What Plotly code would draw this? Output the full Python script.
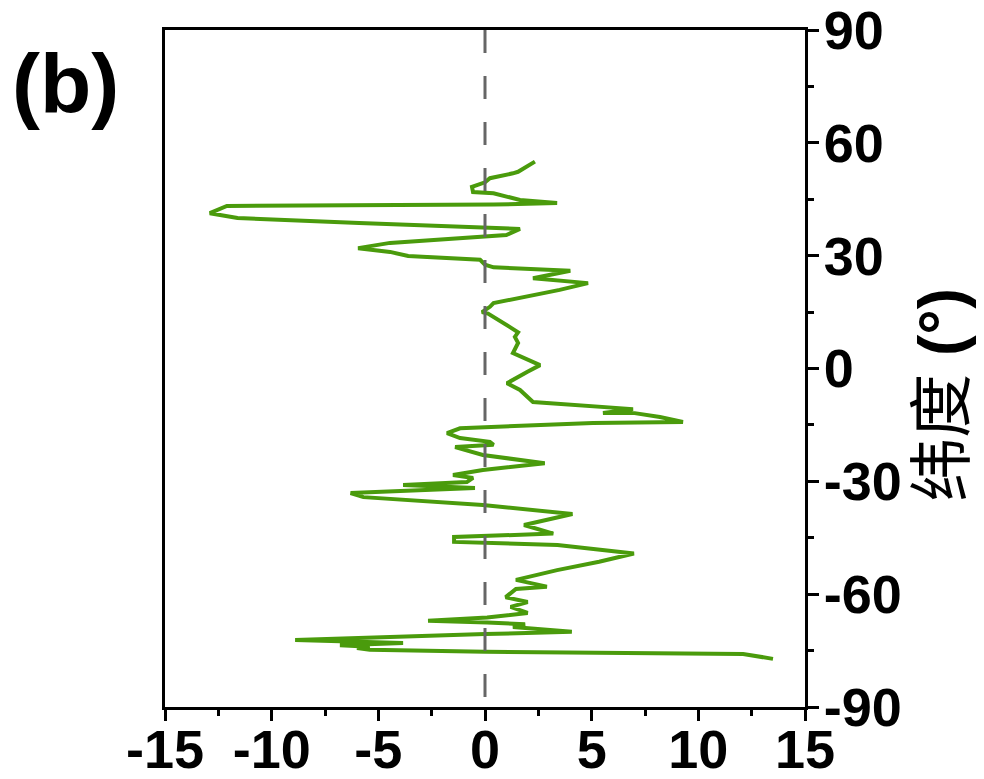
import plotly.graph_objects as go

# values along the x axis (anomaly) and latitude (deg) of the traced profile
values = [2.34, 1.55, 1.31, 0.23, 0.0, -0.61, -0.56, 0.4, 1.64, 3.38,
          0.4, -12.1, -12.9, -11.6, -5.9, -0.23, 1.64, 1.0, -0.23, -4.45,
          -5.95, -4.45, -3.6, -0.23, 0.0, 0.4, 4.0, 2.25, 4.83, 3.5,
          0.4, 0.23, -0.14, 0.14, 1.17, 1.55, 1.4, 1.55, 1.31, 2.58,
          1.97, 1.03, 1.64, 2.25, 6.94, 5.53, 6.94, 8.2, 9.28, 5.06,
          0.0, -1.17, -1.78, -1.17, 0.23, 0.4, -1.4, -0.1, 2.8, -0.1,
          -1.5, -0.56, -0.85, -3.84, -0.47, -6.3, -5.7, -0.1, 4.1, 1.83,
          3.2, -1.45, -1.45, 3.4, 6.98, 5.35, 3.38, 1.45, 2.9, 1.45,
          0.97, 2.0, 1.2, 2.0, 0.1, -2.67, 0.1, 1.17, 1.88, 1.31,
          4.07, 0.0, -8.9, -3.84, -6.8, -5.4, -6.0, -5.4, 0.0, 12.1,
          13.5]
latitudes = [55.0, 52.3, 51.9, 50.6, 49.5, 48.3, 46.9, 46.6, 44.8, 44.0,
             43.6, 43.2, 41.3, 40.0, 38.7, 37.4, 37.1, 35.5, 35.0, 33.4,
             32.0, 31.0, 29.9, 28.9, 27.6, 26.9, 26.0, 24.0, 22.7, 20.9,
             17.4, 16.4, 15.0, 14.6, 11.0, 9.6, 8.4, 6.8, 4.1, 0.9,
             -0.9, -3.9, -5.7, -8.9, -10.8, -11.8, -11.8, -12.9, -14.2, -14.5,
             -15.6, -15.9, -17.2, -18.5, -19.5, -20.3, -20.9, -23.0, -25.2, -27.0,
             -28.3, -29.1, -30.2, -31.0, -31.8, -33.1, -34.2, -36.3, -38.7, -41.6,
             -43.9, -44.8, -46.1, -46.9, -49.2, -51.4, -53.6, -56.2, -58.0, -58.6,
             -60.8, -62.1, -63.4, -65.0, -66.2, -67.1, -67.5, -67.8, -68.0, -68.7,
             -70.0, -70.6, -72.2, -73.0, -73.6, -74.0, -74.3, -74.8, -75.3, -75.9,
             -77.2]

x_ticks = [-15, -10, -5, 0, 5, 10, 15]
y_ticks = [-90, -60, -30, 0, 30, 60, 90]
y_title = "纬度 <b>(°)</b>"
panel_label = "<b>(b)</b>"

tick_font = dict(family="Liberation Sans, Arial", size=54, color="black", weight="bold")

fig = go.Figure()
fig.add_trace(go.Scatter(
    x=values, y=latitudes, mode="lines",
    line=dict(color="#4a9b0c", width=4),
    showlegend=False, hoverinfo="skip",
))

fig.add_shape(type="line", xref="x", yref="y", x0=0, x1=0, y0=90, y1=-90,
              line=dict(color="#666666", width=3, dash="23px,23px"), layer="above")

fig.update_layout(
    width=976, height=771,
    margin=dict(l=157, r=179, t=22, b=72),
    paper_bgcolor="white", plot_bgcolor="white",
    xaxis=dict(
        range=[-15, 15], tickvals=x_ticks, ticktext=[str(v) for v in x_ticks],
        showgrid=False, zeroline=False, automargin=False, ticklabeloverflow="allow",
        ticklabelstandoff=-18,
        showline=True, linecolor="black", linewidth=3, mirror=True,
        ticks="outside", ticklen=11, tickwidth=3, tickcolor="black",
        minor=dict(dtick=2.5, ticks="outside", ticklen=6, tickwidth=3, tickcolor="black", showgrid=False),
        tickfont=tick_font,
    ),
    yaxis=dict(
        range=[-90, 90], side="right", tickvals=y_ticks, ticktext=[str(v) for v in y_ticks],
        showgrid=False, zeroline=False, automargin=False, ticklabeloverflow="allow",
        ticklabelstandoff=-6,
        showline=True, linecolor="black", linewidth=3, mirror=True,
        ticks="outside", ticklen=11, tickwidth=3, tickcolor="black",
        minor=dict(dtick=15, ticks="outside", ticklen=6, tickwidth=3, tickcolor="black", showgrid=False),
        tickfont=tick_font,
    ),
    annotations=[
        dict(text=y_title, xref="paper", yref="paper", x=1.214, y=0.461,
             xanchor="center", yanchor="middle", textangle=-90, showarrow=False,
             font=dict(family="Liberation Sans, Noto Sans CJK SC", size=64, color="black")),
        dict(text=panel_label, xref="paper", yref="paper", x=-0.155, y=0.92,
             xanchor="center", yanchor="middle", showarrow=False,
             font=dict(family="Liberation Sans, Arial", size=84, color="black")),
    ],
)

fig.write_html("out.html")
